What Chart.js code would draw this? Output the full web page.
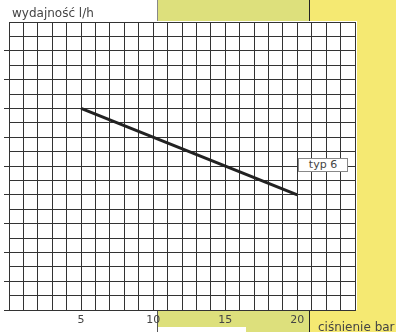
<!DOCTYPE html>
<html>
<head>
<meta charset="utf-8">
<script src="https://cdn.jsdelivr.net/npm/chart.js@4.4.1/dist/chart.umd.min.js"></script>
<style>
html,body{margin:0;padding:0;background:#fff;overflow:hidden}
#wrap{position:relative;width:396px;height:332px;overflow:hidden}
.r{position:absolute;box-sizing:border-box}
.t{position:absolute;font-family:"DejaVu Sans",sans-serif;color:#444;white-space:nowrap}
canvas{position:absolute;left:0;top:0}
</style>
</head>
<body>
<div id="wrap">
  <div class="r" style="left:309px;top:0;width:87px;height:332px;background:#f5e972"></div>
  <div class="r" style="left:157px;top:0;width:153px;height:21px;background:#dde07c;border-left:1px solid #888;border-right:1px solid #222"></div>
  <div class="r" style="left:157px;top:311px;width:153px;height:21px;background:#dde07c;border-left:1px solid #555;border-right:1px solid #222"></div>
  <div class="r" style="left:158px;top:327px;width:88px;height:5px;background:#fff"></div>
  <div class="r" style="left:0;top:21px;width:357px;height:289px;background:#fff"></div>
  <canvas id="c" width="396" height="332"></canvas>
  <div class="t" id="ytitle" style="left:12px;top:6px;font-size:12px;line-height:14px"></div>
  <div class="t" id="xtitle" style="left:318px;top:320px;font-size:12px;line-height:14px"></div>
  <div class="r" id="legend" style="left:298px;top:158px;width:50px;height:14px;background:#fff;border:1px solid #888;font-family:'DejaVu Sans',sans-serif;font-size:11px;line-height:12px;color:#444;text-align:center"></div>
</div>
<script>
// ---- data ----
const seriesName = 'typ 6';
const pressureBar = [5, 20];      // x values (ciśnienie bar)
const flowValues = [14, 8];       // y values (wydajność l/h, in grid units)
const xTickLabels = ['5', '10', '15', '20'];
const yTitle = 'wydajność l/h';
const xTitle = 'ciśnienie bar';

document.getElementById('ytitle').textContent = yTitle;
document.getElementById('xtitle').textContent = xTitle;
document.getElementById('legend').textContent = seriesName;

const points = pressureBar.map((x, i) => ({x: x, y: flowValues[i]}));
const gridColor = '#333';

new Chart(document.getElementById('c'), {
  type: 'line',
  data: {
    datasets: [{
      label: seriesName,
      data: points,
      borderColor: '#222',
      borderWidth: 3,
      pointRadius: 0,
      fill: false,
      tension: 0
    }]
  },
  options: {
    responsive: false,
    animation: false,
    devicePixelRatio: 1,
    layout: {padding: {top: 22, right: 41, bottom: 0, left: 0}},
    plugins: {legend: {display: false}, tooltip: {enabled: false}},
    scales: {
      x: {
        type: 'linear', min: 0, max: 24,
        ticks: {
          stepSize: 1, autoSkip: false, maxRotation: 0, padding: 4,
          color: '#444',
          font: {family: 'DejaVu Sans', size: 11},
          callback: v => xTickLabels.includes(String(v)) ? String(v) : ''
        },
        grid: {color: gridColor, lineWidth: 1, drawTicks: false},
        border: {color: gridColor, width: 1},
        afterFit: s => { s.height = 22; }
      },
      y: {
        type: 'linear', min: 0, max: 20,
        ticks: {stepSize: 1, display: false},
        grid: {
          color: gridColor, lineWidth: 1, drawTicks: true, tickLength: 5,
          tickColor: ctx => (ctx.tick && ctx.tick.value % 2 === 0 && ctx.tick.value < 20) ? gridColor : 'rgba(0,0,0,0)'
        },
        border: {color: gridColor, width: 1},
        afterFit: s => { s.width = 9; }
      }
    }
  }
});
</script>
</body>
</html>
